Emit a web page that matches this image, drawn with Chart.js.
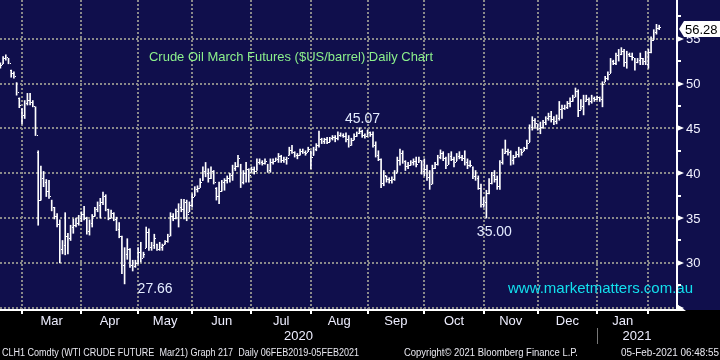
<!DOCTYPE html>
<html>
<head>
<meta charset="utf-8">
<script src="https://cdn.jsdelivr.net/npm/chart.js@4.4.1/dist/chart.umd.min.js"></script>
<style>
  html, body { margin: 0; padding: 0; background: #000; }
  canvas { display: block; }
</style>
</head>
<body>
<canvas id="chart" width="720" height="360"></canvas>
<script>
// CLH1 daily bars, index 0 = 19 Feb 2020 ... index 244 = 05 Feb 2021
const highs = [
  52.3, 53.0, 53.2, 52.8, 51.5, 51.3, 50.1, 48.4, 47.2, 48.1,
  48.9, 48.9, 48.1, 47.4, 42.5, 40.8, 40.2, 39.3, 39.2, 37.0,
  36.2, 35.5, 34.8, 32.5, 35.6, 33.3, 34.2, 34.9, 35.0, 35.3,
  35.7, 36.3, 35.1, 34.8, 35.4, 36.2, 36.8, 37.2, 37.9, 37.6,
  36.0, 35.9, 35.6, 35.1, 34.5, 33.0, 31.7, 32.7, 31.6, 30.3,
  30.3, 31.7, 32.3, 31.2, 34.0, 33.8, 32.3, 33.2, 32.1, 32.3,
  32.1, 32.5, 33.2, 35.6, 35.5, 36.0, 36.6, 37.1, 37.1, 37.0,
  36.8, 37.7, 38.5, 38.6, 39.4, 40.7, 41.2, 40.5, 40.7, 40.3,
  38.4, 39.0, 39.2, 39.4, 39.7, 40.0, 40.9, 41.2, 42.0, 41.0,
  40.3, 41.2, 40.5, 40.7, 40.7, 41.6, 41.6, 41.4, 41.6, 41.0,
  41.6, 41.6, 41.7, 42.2, 42.0, 41.8, 41.8, 42.9, 43.1, 42.4,
  42.2, 42.7, 42.7, 42.5, 42.9, 42.5, 42.9, 43.3, 44.7, 43.9,
  43.9, 44.0, 44.0, 44.2, 44.2, 44.6, 44.5, 44.4, 44.5, 44.2,
  43.9, 44.4, 44.6, 45.07, 44.8, 44.4, 44.8, 44.6, 44.6, 43.5,
  42.5, 41.6, 40.3, 39.7, 39.5, 39.6, 40.3, 41.8, 42.7, 42.5,
  41.4, 41.2, 41.4, 41.6, 41.8, 41.8, 41.4, 41.6, 40.9, 40.3,
  40.9, 41.2, 42.0, 42.6, 42.4, 41.8, 42.2, 42.4, 41.8, 42.2,
  42.4, 42.0, 42.5, 41.6, 41.4, 40.7, 40.3, 39.7, 38.8, 37.3,
  38.1, 39.4, 40.1, 40.3, 39.7, 41.4, 42.7, 43.7, 42.7, 42.5,
  42.0, 42.4, 42.9, 42.7, 42.9, 43.7, 45.4, 46.3, 46.1, 45.5,
  45.7, 45.9, 46.3, 46.7, 46.9, 46.3, 46.5, 48.0, 47.6, 47.6,
  48.0, 48.4, 48.7, 49.5, 49.3, 48.2, 48.7, 48.7, 48.4, 48.7,
  48.5, 48.6, 48.5, 50.2, 50.8, 51.3, 52.8, 52.6, 53.4, 53.8,
  54.0, 53.8, 53.6, 53.4, 53.4, 52.8, 52.8, 53.4, 52.8, 53.6,
  53.8, 55.2, 56.0, 56.6, 56.5
];
const lows = [
  51.7, 52.2, 52.6, 52.2, 50.7, 50.6, 48.7, 47.3, 45.5, 46.1,
  47.6, 47.6, 47.4, 44.2, 34.2, 37.0, 38.5, 37.4, 37.2, 35.8,
  34.9, 34.0, 30.0, 31.0, 30.9, 31.0, 32.5, 33.3, 34.0, 34.2,
  34.6, 34.8, 33.2, 33.1, 34.0, 35.2, 35.7, 35.0, 36.5, 35.8,
  34.8, 35.0, 34.7, 33.6, 32.8, 28.8, 27.66, 30.4, 29.5, 29.1,
  29.5, 29.9, 30.1, 30.6, 31.7, 31.4, 31.4, 31.6, 31.4, 31.4,
  31.4, 32.1, 32.3, 33.0, 34.7, 34.9, 34.0, 35.7, 34.9, 34.7,
  35.7, 36.2, 37.5, 37.9, 38.4, 39.2, 39.6, 39.0, 39.4, 38.8,
  37.0, 36.6, 38.0, 38.1, 38.9, 39.0, 39.2, 40.3, 40.7, 38.4,
  38.8, 39.0, 39.0, 40.1, 39.9, 40.3, 41.0, 40.9, 41.0, 40.1,
  40.1, 41.0, 41.4, 41.2, 41.2, 41.2, 41.0, 42.0, 42.2, 41.8,
  41.6, 42.0, 42.2, 42.0, 42.4, 40.5, 42.0, 42.5, 42.9, 43.3,
  43.3, 43.3, 43.5, 43.7, 43.5, 43.7, 44.1, 44.0, 43.5, 42.9,
  43.1, 43.7, 44.1, 44.4, 44.0, 43.9, 44.2, 44.1, 42.9, 41.8,
  41.4, 38.4, 38.6, 39.0, 38.9, 38.9, 39.2, 40.1, 40.9, 41.1,
  40.3, 40.5, 40.9, 40.9, 40.7, 41.2, 39.9, 39.7, 39.2, 38.2,
  38.8, 40.5, 40.9, 41.6, 41.4, 40.5, 41.0, 41.4, 40.7, 41.4,
  41.6, 41.4, 40.9, 40.5, 40.7, 39.4, 39.2, 38.2, 36.2, 36.2,
  35.0, 37.7, 38.8, 39.0, 38.2, 38.2, 41.0, 42.2, 42.0, 40.9,
  41.0, 41.8, 41.8, 42.0, 42.5, 42.7, 43.5, 44.8, 45.0, 44.8,
  44.4, 45.0, 45.4, 45.9, 45.7, 45.4, 45.5, 45.9, 46.1, 47.1,
  47.2, 47.4, 48.0, 48.5, 46.3, 47.1, 46.5, 48.0, 47.6, 47.8,
  48.0, 48.2, 48.0, 47.4, 50.2, 50.4, 51.2, 52.1, 52.1, 52.5,
  53.2, 51.9, 51.7, 53.0, 52.6, 51.5, 52.3, 52.1, 52.1, 52.1,
  51.7, 53.4, 54.9, 55.5, 56.0
];
const opens = [
  52.0, 52.2, 52.8, 52.8, 51.5, 51.2, 50.1, 48.4, 47.2, 46.5,
  47.8, 48.2, 47.9, 47.4, 42.4, 37.0, 39.5, 39.0, 38.0, 37.0,
  36.2, 35.2, 34.3, 31.5, 32.0, 33.0, 32.8, 34.0, 34.2, 34.5,
  35.0, 35.4, 35.0, 33.6, 34.5, 35.2, 36.0, 36.5, 36.8, 37.5,
  36.0, 35.0, 35.6, 34.9, 33.8, 33.0, 29.8, 31.0, 31.5, 29.8,
  29.6, 30.0, 31.2, 30.6, 31.7, 33.5, 31.8, 32.0, 32.1, 31.6,
  31.8, 32.1, 32.4, 33.0, 35.2, 35.0, 35.8, 36.2, 36.0, 36.8,
  35.7, 36.5, 37.5, 38.2, 38.4, 39.2, 40.2, 40.0, 39.5, 40.3,
  38.4, 37.5, 38.0, 39.0, 39.2, 39.5, 39.8, 40.6, 40.8, 41.0,
  39.0, 40.0, 40.5, 40.1, 40.5, 40.3, 41.3, 41.2, 41.1, 41.0,
  40.4, 41.3, 41.4, 41.6, 41.9, 41.5, 41.6, 42.0, 42.6, 42.4,
  42.0, 42.0, 42.5, 42.4, 42.4, 42.5, 42.0, 42.7, 43.1, 43.8,
  43.6, 43.8, 43.5, 43.9, 44.0, 43.9, 44.3, 44.3, 44.2, 43.8,
  43.2, 43.7, 44.2, 44.5, 44.7, 44.3, 44.2, 44.6, 44.4, 43.2,
  42.0, 41.6, 38.9, 39.7, 39.3, 39.2, 39.4, 40.1, 41.5, 42.3,
  41.4, 40.8, 40.9, 41.2, 41.4, 41.2, 41.4, 40.3, 40.5, 39.6,
  38.8, 40.6, 41.0, 41.8, 42.3, 41.7, 41.0, 41.9, 41.6, 41.4,
  41.9, 41.8, 41.7, 41.2, 40.9, 40.7, 39.7, 39.5, 38.4, 36.6,
  36.8, 37.8, 38.9, 39.8, 39.4, 38.6, 41.2, 42.3, 42.5, 42.4,
  41.5, 41.8, 42.1, 42.7, 42.5, 42.8, 43.5, 45.2, 45.9, 45.5,
  45.0, 45.2, 45.7, 46.1, 46.4, 46.0, 45.8, 46.2, 47.2, 47.3,
  47.4, 47.8, 48.1, 48.5, 49.2, 47.1, 47.5, 48.0, 48.3, 48.0,
  48.4, 48.3, 48.5, 48.3, 50.2, 50.6, 51.2, 52.5, 52.3, 53.2,
  53.3, 53.6, 52.4, 53.3, 53.1, 52.8, 52.4, 52.6, 52.8, 52.5,
  52.2, 53.55, 54.9, 55.7, 56.2
];
const closes = [
  52.1, 52.8, 52.9, 52.3, 51.2, 50.8, 49.0, 47.6, 46.5, 47.8,
  48.2, 47.9, 47.5, 44.3, 37.0, 39.5, 39.0, 38.0, 37.5, 36.2,
  35.2, 34.3, 31.5, 32.0, 33.0, 32.8, 34.0, 34.2, 34.5, 35.0,
  35.4, 35.0, 33.6, 34.5, 35.2, 36.0, 36.5, 36.8, 37.5, 36.0,
  35.0, 35.6, 34.9, 33.8, 33.0, 29.8, 31.0, 31.5, 29.8, 29.6,
  30.0, 31.2, 30.5, 31.0, 33.5, 31.8, 32.0, 32.8, 31.6, 31.8,
  32.0, 32.4, 33.0, 35.2, 35.0, 35.8, 36.2, 36.0, 36.8, 35.5,
  36.5, 37.4, 38.2, 38.4, 39.0, 40.2, 40.0, 39.5, 40.3, 39.0,
  37.5, 38.0, 39.0, 39.2, 39.5, 39.8, 40.6, 40.8, 41.7, 39.0,
  40.0, 40.5, 39.8, 40.5, 40.3, 41.3, 41.2, 41.1, 41.4, 40.4,
  41.3, 41.4, 41.6, 41.9, 41.5, 41.6, 41.7, 42.6, 42.4, 42.0,
  42.0, 42.5, 42.4, 42.3, 42.7, 41.8, 42.7, 43.1, 43.8, 43.6,
  43.8, 43.5, 43.9, 44.0, 43.9, 44.3, 44.3, 44.2, 43.8, 43.2,
  43.7, 44.2, 44.5, 44.7, 44.3, 44.2, 44.6, 44.4, 43.2, 42.0,
  41.6, 38.9, 39.8, 39.3, 39.2, 39.4, 40.0, 41.5, 42.3, 41.4,
  40.8, 40.9, 41.2, 41.4, 41.0, 41.5, 40.3, 40.5, 39.6, 38.8,
  40.6, 41.0, 41.8, 42.3, 41.7, 40.9, 41.9, 41.6, 41.2, 41.9,
  41.8, 41.7, 41.2, 40.9, 40.9, 39.7, 39.5, 38.4, 36.6, 36.8,
  37.8, 38.9, 39.8, 39.4, 38.6, 41.2, 42.3, 42.5, 42.4, 41.5,
  41.8, 42.1, 42.7, 42.4, 42.8, 43.4, 45.2, 45.9, 45.6, 45.0,
  45.2, 45.7, 46.1, 46.4, 46.0, 45.8, 46.2, 47.2, 47.3, 47.4,
  47.8, 48.1, 48.5, 49.2, 47.0, 47.5, 48.0, 48.3, 48.0, 48.4,
  48.3, 48.5, 48.3, 49.9, 50.6, 51.1, 52.5, 52.3, 53.2, 53.3,
  53.6, 52.4, 53.3, 53.1, 52.9, 52.4, 52.6, 52.8, 52.5, 52.2,
  53.55, 54.8, 55.7, 56.2, 56.28
];

// first bar index of each month (Mar 2020 .. Feb 2021)
const monthStarts = [8, 30, 51, 71, 93, 115, 136, 157, 179, 199, 221, 240];
const monthLabels = ['Mar', 'Apr', 'May', 'Jun', 'Jul', 'Aug', 'Sep', 'Oct', 'Nov', 'Dec', 'Jan'];
const yearLabels = ['2020', '2021'];
const yearStart2021 = 221;
const yTicks = [25, 30, 35, 40, 45, 50, 55];
const yMinorTicks = [27.5, 32.5, 37.5, 42.5, 47.5, 52.5, 57.5];
const lastPrice = 56.28;
const callouts = [
  { text: '45.07', index: 133, value: 45.07 },
  { text: '27.66', index: 46, value: 27.66 },
  { text: '35.00', index: 180, value: 35.00 }
];

const NAVY = '#100f4c';
const GRID = '#8a8a8a';
const FONT = '"Liberation Sans", Arial, sans-serif';

const bloomberg = {
  id: 'bloomberg',
  beforeDraw(chart) {
    const { ctx, width, height } = chart;
    ctx.save();
    ctx.fillStyle = '#000';
    ctx.fillRect(0, 0, width, height);
    ctx.fillStyle = NAVY;
    ctx.fillRect(0, 0, width, 310);
    ctx.restore();
  },
  beforeDatasetsDraw(chart) {
    const { ctx, chartArea: a, scales: { x, y } } = chart;
    ctx.save();
    ctx.strokeStyle = GRID;
    ctx.lineWidth = 2;
    ctx.setLineDash([2, 2]);
    ctx.beginPath();
    yTicks.forEach(v => {
      const py = Math.round(y.getPixelForValue(v));
      ctx.moveTo(a.left, py);
      ctx.lineTo(a.right, py);
    });
    monthStarts.forEach(i => {
      const px = Math.round(x.getPixelForValue(i));
      ctx.moveTo(px, a.top);
      ctx.lineTo(px, a.bottom);
    });
    ctx.stroke();
    ctx.restore();
  },
  afterDatasetsDraw(chart) {
    // open (left) and close (right) ticks of each bar
    const { ctx, scales: { x, y } } = chart;
    ctx.save();
    ctx.fillStyle = '#fff';
    for (let i = 0; i < closes.length; i++) {
      const px = Math.round(x.getPixelForValue(i));
      ctx.fillRect(px - 1, Math.round(y.getPixelForValue(opens[i])), 1, 1);
      ctx.fillRect(px + 1, Math.round(y.getPixelForValue(closes[i])), 1, 1);
    }
    ctx.restore();
  },
  afterDraw(chart) {
    const { ctx, chartArea: a, scales: { x, y } } = chart;
    ctx.save();

    // title
    ctx.font = '13px ' + FONT;
    ctx.textBaseline = 'middle';
    ctx.textAlign = 'left';
    ctx.fillStyle = '#8cf08c';
    ctx.fillText('Crude Oil March Futures ($US/barrel) Daily Chart', 149, 57, 284);

    // callouts
    ctx.font = '14px ' + FONT;
    ctx.fillStyle = '#e4ecff';
    callouts.forEach(c => {
      const px = x.getPixelForValue(c.index);
      const py = y.getPixelForValue(c.value);
      if (c.index === 133) {
        ctx.textAlign = 'center';
        ctx.fillText(c.text, px + 3, py - 9);
      } else if (c.index === 46) {
        ctx.textAlign = 'left';
        ctx.fillText(c.text, px + 13, py + 5);
      } else {
        ctx.textAlign = 'center';
        ctx.fillText(c.text, px + 8, py + 14);
      }
    });

    ctx.textAlign = 'left';
    ctx.fillStyle = '#12e0ee';
    ctx.font = '15px ' + FONT;
    ctx.fillText('www.marketmatters.com.au', 508, 289, 185);

    // axes
    ctx.fillStyle = '#fff';
    ctx.fillRect(a.right - 1, 0, 2, a.bottom + 1);
    ctx.fillRect(0, a.bottom - 1, a.right + 1, 2);
    ctx.beginPath();
    ctx.moveTo(a.right, a.bottom - 6);
    ctx.lineTo(a.right + 9, a.bottom + 1);
    ctx.lineTo(a.right, a.bottom + 1);
    ctx.closePath();
    ctx.fill();

    yTicks.forEach(v => {
      const py = Math.round(y.getPixelForValue(v));
      ctx.beginPath();
      ctx.moveTo(a.right, py - 3);
      ctx.lineTo(a.right + 7, py);
      ctx.lineTo(a.right, py + 3);
      ctx.closePath();
      ctx.fill();
    });
    yMinorTicks.forEach(v => {
      const py = Math.round(y.getPixelForValue(v));
      ctx.fillRect(a.right, py - 1, 4, 2);
    });

    ctx.font = '13px ' + FONT;
    ctx.fillStyle = '#f2f2ff';
    yTicks.forEach(v => {
      if (v > 25) ctx.fillText(String(v), a.right + 9, y.getPixelForValue(v) + 1);
    });

    // last price box
    const ly = Math.round(y.getPixelForValue(lastPrice)) + 2;
    ctx.fillStyle = '#fff';
    ctx.beginPath();
    ctx.moveTo(a.right + 2, ly);
    ctx.lineTo(a.right + 7, ly - 8);
    ctx.lineTo(720, ly - 8);
    ctx.lineTo(720, ly + 8);
    ctx.lineTo(a.right + 7, ly + 8);
    ctx.closePath();
    ctx.fill();
    ctx.fillStyle = '#000';
    ctx.fillText(lastPrice.toFixed(2), a.right + 8, ly + 1, 34);

    // month ticks and labels
    ctx.fillStyle = '#fff';
    monthStarts.forEach(i => {
      const px = Math.round(x.getPixelForValue(i));
      ctx.fillRect(px - 1, a.bottom + 1, 2, 3);
    });
    ctx.textAlign = 'center';
    ctx.fillStyle = '#eeeeff';
    monthLabels.forEach((m, k) => {
      const cx = (x.getPixelForValue(monthStarts[k]) + x.getPixelForValue(monthStarts[k + 1])) / 2;
      ctx.fillText(m, cx, 321);
    });
    const split = x.getPixelForValue(yearStart2021);
    ctx.fillText(yearLabels[0], (a.left + split) / 2, 336);
    ctx.fillText(yearLabels[1], (split + a.right) / 2, 336);
    ctx.fillStyle = '#777';
    ctx.fillRect(Math.round(split), 328, 1, 16);

    // footer
    ctx.font = '10px ' + FONT;
    ctx.textAlign = 'left';
    ctx.fillStyle = '#e8e8f0';
    ctx.fillText('CLH1 Comdty (WTI CRUDE FUTURE  Mar21) Graph 217  Daily 06FEB2019-05FEB2021', 2, 353, 357);
    ctx.fillText('Copyright\u00a9 2021 Bloomberg Finance L.P.', 404, 353, 174);
    ctx.fillText('05-Feb-2021 06:48:55', 621, 353, 98);
    ctx.restore();
  }
};

new Chart(document.getElementById('chart'), {
  type: 'bar',
  data: {
    datasets: [{
      label: 'CLH1',
      data: highs.map((h, i) => ({ x: i, y: [lows[i], h] })),
      backgroundColor: '#ffffff',
      borderWidth: 0,
      barThickness: 1,
      borderSkipped: false
    }]
  },
  options: {
    responsive: false,
    animation: false,
    devicePixelRatio: 1,
    layout: { padding: { left: 0, right: 43, top: 0, bottom: 50 } },
    scales: {
      x: { type: 'linear', display: false, min: -0.15, max: 250.6, offset: false },
      y: { display: false, min: 24.75, max: 59.31 }
    },
    plugins: {
      legend: { display: false },
      tooltip: { enabled: false }
    }
  },
  plugins: [bloomberg]
});
</script>
</body>
</html>
